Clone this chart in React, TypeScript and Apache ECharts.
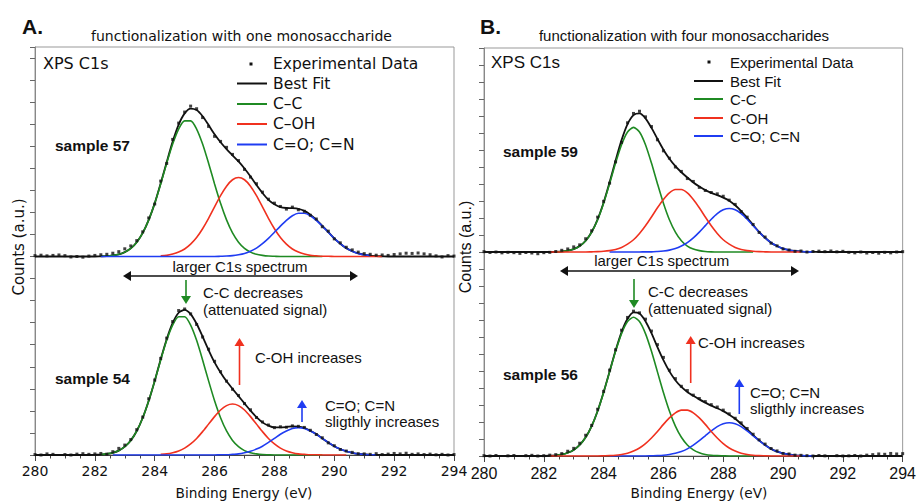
import React, { useEffect, useRef } from "react";
import * as echarts from "echarts";

const _ = null;

// Binding energy grids (eV)
const dataEnergy = [
  280.0, 280.2, 280.4, 280.6, 280.8, 281.0, 281.2, 281.4, 281.6, 281.8,
  282.0, 282.2, 282.4, 282.6, 282.8, 283.0, 283.2, 283.4, 283.6, 283.8,
  284.0, 284.2, 284.4, 284.6, 284.8, 285.0, 285.2, 285.4, 285.6, 285.8,
  286.0, 286.2, 286.4, 286.6, 286.8, 287.0, 287.2, 287.4, 287.6, 287.8,
  288.0, 288.2, 288.4, 288.6, 288.8, 289.0, 289.2, 289.4, 289.6, 289.8,
  290.0, 290.2, 290.4, 290.6, 290.8, 291.0, 291.2, 291.4, 291.6, 291.8,
  292.0, 292.2, 292.4, 292.6, 292.8, 293.0, 293.2, 293.4, 293.6, 293.8,
  294.0,
];
const fitEnergy = [
  282.0, 282.2, 282.4, 282.6, 282.8, 283.0, 283.2, 283.4, 283.6, 283.8,
  284.0, 284.2, 284.4, 284.6, 284.8, 285.0, 285.2, 285.4, 285.6, 285.8,
  286.0, 286.2, 286.4, 286.6, 286.8, 287.0, 287.2, 287.4, 287.6, 287.8,
  288.0, 288.2, 288.4, 288.6, 288.8, 289.0, 289.2, 289.4, 289.6, 289.8,
  290.0, 290.2, 290.4, 290.6, 290.8, 291.0, 291.2, 291.4, 291.6, 291.8,
  292.0,
];
const xTicks = [280, 282, 284, 286, 288, 290, 292, 294];

// ---------- Panel A, sample 57 (top) ----------
const s57Data = [
  0.04, 0.06, 0.03, 0.05, 0.07, 0.04, -0.02, 0.0, -0.03, 0.02,
  0.05, 0.08, 0.1, 0.15, 0.22, 0.35, 0.48, 0.72, 1.12, 1.75,
  2.38, 3.42, 4.22, 5.31, 6.05, 6.55, 6.82, 6.7, 6.3, 5.9,
  5.45, 5.22, 4.95, 4.63, 4.35, 3.95, 3.6, 3.3, 2.92, 2.6,
  2.42, 2.27, 2.15, 2.24, 2.12, 2.05, 1.87, 1.7, 1.35, 1.15,
  0.8, 0.62, 0.42, 0.3, 0.2, 0.13, 0.1, 0.06, 0.07, 0.05,
  0.09, 0.12, 0.15, 0.14, 0.16, 0.12, 0.08, 0.03, -0.02, 0.04,
  0.02,
];
const s57Fit = [
  0, 0, 0, 0, 0, 0, 0, 0, 0, 0,
  0, 0.01, 0.02, 0.05, 0.1, 0.2, 0.37, 0.65, 1.07, 1.66,
  2.41, 3.32, 4.28, 5.21, 5.98, 6.49, 6.71, 6.64, 6.36, 5.96,
  5.54, 5.18, 4.87, 4.59, 4.31, 3.99, 3.63, 3.24, 2.88, 2.57,
  2.37, 2.24, 2.2, 2.19, 2.16, 2.07, 1.9, 1.67, 1.39, 1.11,
  0.82, 0.58, 0.38, 0.24, 0.14, 0.08, 0.04, 0.02, 0.01, 0,
  0, 0, 0, 0, 0, 0, 0, 0, 0, 0,
  0,
];
const s57CC = [
  _, 0.01, 0.02, 0.05, 0.1, 0.2, 0.37, 0.65, 1.07, 1.66,
  2.41, 3.29, 4.23, 5.1, 5.78, 6.15, 6.15, 5.78, 5.1, 4.23,
  3.29, 2.41, 1.66, 1.07, 0.65, 0.37, 0.2, 0.1, 0.05, 0.02,
  0.01, 0, 0, 0, 0, 0, 0, 0, 0, _,
  _, _, _, _, _, _, _, _, _, _,
  _,
];
const s57COH = [
  _, _, _, _, _, _, _, _, _, _,
  _, 0.03, 0.05, 0.11, 0.2, 0.34, 0.56, 0.86, 1.26, 1.73,
  2.25, 2.76, 3.19, 3.48, 3.58, 3.48, 3.19, 2.76, 2.25, 1.73,
  1.26, 0.86, 0.56, 0.34, 0.2, 0.11, 0.05, 0.03, 0.01, 0.01,
  0, 0, 0, 0, 0, 0, 0, 0, 0, _,
  _,
];
const s57CO = [
  _, 0, 0, 0, 0, 0, 0, 0, 0, 0,
  0, 0, 0, 0, 0, 0, 0, 0, 0, 0,
  0, 0.01, 0.02, 0.04, 0.08, 0.14, 0.24, 0.38, 0.58, 0.82,
  1.1, 1.38, 1.64, 1.85, 1.96, 1.96, 1.85, 1.64, 1.38, 1.1,
  0.82, 0.58, 0.38, 0.24, 0.14, 0.08, 0.04, _, _, _,
  _,
];

// ---------- Panel A, sample 54 (bottom) ----------
const s54Data = [
  0.02, 0.0, 0.05, 0.03, -0.01, 0.02, 0.0, 0.04, 0.06, 0.03,
  0.05, 0.07, 0.04, 0.15, 0.3, 0.45, 0.7, 1.15, 1.72, 2.55,
  3.4, 4.38, 5.3, 6.05, 6.55, 6.62, 6.4, 5.92, 5.35, 4.8,
  4.25, 3.78, 3.35, 2.98, 2.7, 2.33, 2.05, 1.7, 1.5, 1.36,
  1.24, 1.28, 1.26, 1.32, 1.3, 1.25, 1.12, 0.93, 0.78, 0.55,
  0.42, 0.25, 0.18, 0.12, 0.06, 0.05, 0.03, 0.06, 0.02, 0.04,
  0.07, 0.05, 0.08, 0.03, 0.05, 0.02, 0.04, 0.01, 0.03, 0.0,
  0.02,
];
const s54Fit = [
  0, 0, 0, 0, 0, 0, 0, 0, 0, 0,
  0.01, 0.02, 0.05, 0.1, 0.2, 0.38, 0.66, 1.09, 1.69, 2.46,
  3.36, 4.34, 5.25, 5.99, 6.45, 6.58, 6.39, 5.95, 5.37, 4.76,
  4.2, 3.74, 3.34, 3.0, 2.67, 2.34, 2.01, 1.72, 1.48, 1.33,
  1.25, 1.25, 1.27, 1.3, 1.29, 1.23, 1.1, 0.95, 0.75, 0.57,
  0.4, 0.27, 0.17, 0.1, 0.05, 0.03, 0.01, 0.01, 0, 0,
  0, 0, 0, 0, 0, 0, 0, 0, 0, 0,
  0,
];
const s54CC = [
  _, 0.02, 0.05, 0.1, 0.2, 0.38, 0.66, 1.09, 1.69, 2.46,
  3.36, 4.31, 5.2, 5.89, 6.27, 6.27, 5.89, 5.2, 4.31, 3.36,
  2.46, 1.69, 1.09, 0.66, 0.38, 0.2, 0.1, 0.05, 0.02, 0.01,
  0, 0, 0, 0, 0, 0, 0, 0, 0, _,
  _, _, _, _, _, _, _, _, _, _,
  _,
];
const s54COH = [
  _, _, _, _, _, _, _, _, _, _,
  _, 0.03, 0.05, 0.1, 0.18, 0.31, 0.5, 0.75, 1.06, 1.4,
  1.74, 2.04, 2.24, 2.31, 2.24, 2.04, 1.74, 1.4, 1.06, 0.75,
  0.5, 0.31, 0.18, 0.1, 0.05, 0.03, 0.01, 0.01, 0, 0,
  0, 0, 0, _, _, _, _, _, _, _,
  _,
];
const s54CO = [
  _, _, _, 0, 0, 0, 0, 0, 0, 0,
  0, 0, 0, 0, 0, 0, 0, 0, 0, 0,
  0, 0.01, 0.01, 0.03, 0.05, 0.1, 0.17, 0.27, 0.4, 0.57,
  0.75, 0.94, 1.09, 1.2, 1.24, 1.2, 1.09, 0.94, 0.75, 0.57,
  0.4, 0.27, 0.17, 0.1, 0.05, 0.03, 0.01, 0.01, _, _,
  _,
];

// ---------- Panel B, sample 59 (top) ----------
const s59Data = [
  0.02, -0.03, 0.0, -0.05, -0.02, -0.04, -0.08, -0.03, -0.06, -0.1,
  -0.04, -0.02, 0.03, 0.1, 0.18, 0.3, 0.42, 0.78, 1.25, 2.05,
  2.98, 4.05, 5.3, 6.45, 7.6, 8.15, 8.28, 7.95, 7.38, 6.6,
  5.95, 5.52, 5.0, 4.74, 4.32, 4.15, 3.8, 3.62, 3.5, 3.42,
  3.28, 3.05, 2.8, 2.38, 2.05, 1.62, 1.15, 0.88, 0.52, 0.36,
  0.18, 0.12, 0.04, 0.06, 0.0, 0.03, 0.05, 0.02, 0.06, 0.01,
  0.04, -0.02, -0.05, 0.0, -0.06, -0.03, -0.07, -0.02, -0.05, 0.0,
  0.02,
];
const s59Fit = [
  0, 0, 0, 0, 0, 0, 0, 0, 0, 0,
  0, 0, 0.01, 0.03, 0.08, 0.17, 0.35, 0.66, 1.18, 1.92,
  2.91, 4.1, 5.38, 6.58, 7.52, 8.05, 8.15, 7.86, 7.3, 6.65,
  6.02, 5.49, 5.05, 4.69, 4.38, 4.09, 3.85, 3.64, 3.48, 3.35,
  3.2, 3.02, 2.75, 2.41, 2.01, 1.59, 1.19, 0.84, 0.55, 0.35,
  0.2, 0.11, 0.06, 0.03, 0.01, 0.01, 0, 0, 0, 0,
  0, 0, 0, 0, 0, 0, 0, 0, 0, 0,
  0,
];
const s59CC = [
  _, _, 0.01, 0.03, 0.08, 0.17, 0.35, 0.66, 1.17, 1.9,
  2.87, 4.02, 5.23, 6.31, 7.06, 7.33, 7.06, 6.31, 5.23, 4.02,
  2.87, 1.9, 1.17, 0.66, 0.35, 0.17, 0.08, 0.03, 0.01, 0,
  0, 0, 0, 0, 0, 0, _, _, _, _,
  _, _, _, _, _, _, _, _, _, _,
  _,
];
const s59COH = [
  _, 0, 0, 0, 0, 0, 0, 0, 0.01, 0.02,
  0.04, 0.08, 0.15, 0.27, 0.46, 0.72, 1.09, 1.54, 2.06, 2.6,
  3.09, 3.48, 3.68, 3.68, 3.48, 3.09, 2.6, 2.06, 1.54, 1.09,
  0.72, 0.46, 0.27, 0.15, 0.08, 0.04, 0.02, 0.01, 0, 0,
  0, 0, 0, 0, _, _, _, _, _, _,
  _,
];
const s59CO = [
  _, _, _, _, _, _, _, _, _, _,
  _, 0, 0, 0, 0, 0, 0, 0.01, 0.01, 0.03,
  0.06, 0.11, 0.2, 0.35, 0.55, 0.83, 1.17, 1.55, 1.93, 2.26,
  2.48, 2.56, 2.48, 2.26, 1.93, 1.55, 1.17, 0.83, 0.55, 0.35,
  0.2, 0.11, 0.06, 0.03, 0.01, 0.01, _, _, _, _,
  _,
];

// ---------- Panel B, sample 56 (bottom) ----------
const s56Data = [
  0.02, 0.0, 0.03, -0.02, 0.01, 0.03, -0.01, 0.02, 0.04, 0.0,
  0.02, 0.05, 0.08, 0.14, 0.28, 0.45, 0.75, 1.22, 1.8, 2.75,
  3.8, 5.05, 6.25, 7.4, 8.15, 8.52, 8.42, 8.05, 7.35, 6.55,
  5.8, 5.05, 4.55, 4.1, 3.85, 3.58, 3.38, 3.2, 3.02, 2.88,
  2.7, 2.48, 2.22, 1.95, 1.62, 1.28, 0.95, 0.7, 0.44, 0.3,
  0.15, 0.12, 0.05, 0.04, 0.02, 0.0, 0.03, 0.01, -0.01, 0.02,
  0.0, 0.01, 0.03, 0.0, 0.05, 0.08, 0.12, 0.1, 0.15, 0.12,
  0.14,
];
const s56Fit = [
  0, 0, 0, 0, 0, 0, 0, 0, 0, 0,
  0, 0.02, 0.04, 0.09, 0.19, 0.36, 0.65, 1.1, 1.76, 2.65,
  3.75, 4.97, 6.2, 7.29, 8.07, 8.45, 8.38, 7.93, 7.23, 6.41,
  5.64, 4.98, 4.46, 4.06, 3.77, 3.54, 3.33, 3.14, 2.96, 2.81,
  2.64, 2.43, 2.19, 1.89, 1.57, 1.23, 0.92, 0.65, 0.42, 0.26,
  0.16, 0.09, 0.04, 0.02, 0.01, 0, 0, 0, 0, 0,
  0, 0, 0, 0, 0, 0, 0, 0, 0, 0,
  0,
];
const s56CC = [
  _, _, 0.04, 0.09, 0.19, 0.36, 0.65, 1.1, 1.76, 2.65,
  3.74, 4.95, 6.16, 7.2, 7.91, 8.16, 7.91, 7.2, 6.16, 4.95,
  3.74, 2.65, 1.76, 1.1, 0.65, 0.36, 0.19, 0.09, 0.04, 0.02,
  0.01, 0, 0, 0, 0, 0, _, _, _, _,
  _, _, _, _, _, _, _, _, _, _,
  _,
];
const s56COH = [
  _, 0, 0, 0, 0, 0, 0, 0, 0, 0,
  0.01, 0.02, 0.04, 0.09, 0.16, 0.29, 0.47, 0.73, 1.06, 1.44,
  1.86, 2.24, 2.54, 2.7, 2.7, 2.54, 2.24, 1.86, 1.44, 1.06,
  0.73, 0.47, 0.29, 0.16, 0.09, 0.04, 0.02, 0.01, 0, 0,
  0, 0, 0, 0, _, _, _, _, _, _,
  _,
];
const s56CO = [
  _, _, _, _, _, _, _, _, _, _,
  _, 0, 0, 0, 0, 0, 0, 0, 0.01, 0.02,
  0.04, 0.09, 0.16, 0.26, 0.42, 0.64, 0.9, 1.19, 1.48, 1.73,
  1.9, 1.96, 1.9, 1.73, 1.48, 1.19, 0.9, 0.64, 0.42, 0.26,
  0.16, 0.09, 0.04, 0.02, 0.01, 0, _, _, _, _,
  _,
];

// vertical offsets of the upper spectrum in each panel (axis units)
const offsetA = 9;
const offsetB = 12;

const BLACK = "#111111";
const GREEN = "#1f8a23";
const RED = "#f0311f";
const BLUE = "#1f3cf2";

const fontA = '"DejaVu Sans", sans-serif';
const fontB = '"Liberation Sans", Arial, sans-serif';

function toPairs(xs: number[], ys: (number | null)[], off: number) {
  const out: number[][] = [];
  ys.forEach((v, i) => {
    if (v !== null && v !== undefined) out.push([xs[i], v + off]);
  });
  return out;
}

function lineS(g: number, xs: number[], ys: (number | null)[], off: number, color: string, width: number, z: number) {
  return {
    type: "line",
    xAxisIndex: g,
    yAxisIndex: g,
    data: toPairs(xs, ys, off),
    showSymbol: false,
    symbol: "none",
    smooth: 0.25,
    lineStyle: { color, width },
    z,
    silent: true,
  };
}
function dotS(g: number, ys: number[], off: number) {
  return {
    type: "scatter",
    xAxisIndex: g,
    yAxisIndex: g,
    data: toPairs(dataEnergy, ys, off),
    symbol: "rect",
    symbolSize: 3,
    itemStyle: { color: BLACK },
    z: 6,
    silent: true,
  };
}

function txt(text: string, x: number, y: number, font: string, align = "left", extra: any = {}) {
  return {
    type: "text",
    x,
    y,
    silent: true,
    ...extra,
    style: {
      text,
      font,
      fill: BLACK,
      align,
      verticalAlign: "middle",
      textAlign: align,
      textVerticalAlign: "middle",
    },
  };
}

function vArrow(x: number, tail: number, tip: number, color: string) {
  const dir = tip > tail ? 1 : -1;
  const hl = 8;
  const hw = 5;
  return [
    { type: "line", silent: true, shape: { x1: x, y1: tail, x2: x, y2: tip - dir * hl }, style: { stroke: color, lineWidth: 1.6 } },
    { type: "polygon", silent: true, shape: { points: [[x - hw, tip - dir * hl], [x + hw, tip - dir * hl], [x, tip]] }, style: { fill: color } },
  ];
}
function hDouble(x1: number, x2: number, y: number) {
  const hl = 8;
  const hw = 5;
  return [
    { type: "line", silent: true, shape: { x1: x1 + hl, y1: y, x2: x2 - hl, y2: y }, style: { stroke: BLACK, lineWidth: 1.6 } },
    { type: "polygon", silent: true, shape: { points: [[x1, y], [x1 + hl, y - hw], [x1 + hl, y + hw]] }, style: { fill: BLACK } },
    { type: "polygon", silent: true, shape: { points: [[x2, y], [x2 - hl, y - hw], [x2 - hl, y + hw]] }, style: { fill: BLACK } },
  ];
}
function legendLine(x1: number, x2: number, y: number, color: string) {
  return { type: "line", silent: true, shape: { x1, y1: y, x2, y2: y }, style: { stroke: color, lineWidth: 2 } };
}

function xAxisCfg(g: number, font: string, size: number) {
  return {
    type: "value",
    gridIndex: g,
    min: xTicks[0],
    max: xTicks[xTicks.length - 1],
    interval: xTicks[1] - xTicks[0],
    axisLine: { show: true, lineStyle: { color: "#444", width: 1 } },
    axisTick: { show: true, length: 6, lineStyle: { color: "#444" } },
    minorTick: { show: true, splitNumber: 4, length: 3.5, lineStyle: { color: "#444" } },
    axisLabel: { show: true, margin: 9, color: BLACK, fontFamily: font, fontSize: size },
    splitLine: { show: false },
  };
}
function yAxisCfg(g: number, max: number) {
  return {
    type: "value",
    gridIndex: g,
    min: 0,
    max,
    interval: 1,
    axisLine: { show: true, lineStyle: { color: "#888", width: 1 } },
    axisTick: { show: true, length: 5, lineStyle: { color: "#666" } },
    axisLabel: { show: false },
    splitLine: { show: false },
  };
}

export default function App() {
  const ref = useRef<HTMLDivElement>(null);
  useEffect(() => {
    if (!ref.current) return;
    const chart = echarts.init(ref.current, undefined, { renderer: "svg" });

    const graphics: any[] = [
      // Panel A
      txt("A.", 22, 26, `bold 21px ${fontB}`),
      txt("functionalization with one monosaccharide", 241.5, 36, `14px ${fontA}`, "center"),
      txt("XPS C1s", 43, 63, `16px ${fontA}`),
      { type: "rect", silent: true, shape: { x: 249.5, y: 62.5, width: 3, height: 3 }, style: { fill: BLACK } },
      legendLine(237, 267, 83.5, BLACK),
      legendLine(237, 267, 104, GREEN),
      legendLine(237, 267, 124, RED),
      legendLine(237, 267, 144.5, BLUE),
      txt("Experimental Data", 273, 63.5, `15.5px ${fontA}`),
      txt("Best Fit", 273, 83.5, `15.5px ${fontA}`),
      txt("C\u2013C", 273, 104, `15.5px ${fontA}`),
      txt("C\u2013OH", 273, 124, `15.5px ${fontA}`),
      txt("C=O; C=N", 273, 144.5, `15.5px ${fontA}`),
      txt("sample 57", 55, 145, `bold 15.5px ${fontB}`),
      txt("sample 54", 55, 378, `bold 15.5px ${fontB}`),
      txt("larger C1s spectrum", 240, 266.5, `15px ${fontB}`, "center"),
      ...hDouble(123, 358, 276),
      ...vArrow(186, 280, 304, GREEN),
      txt("C-C decreases", 203, 292.5, `15px ${fontB}`),
      txt("(attenuated signal)", 203, 309, `15px ${fontB}`),
      ...vArrow(239.5, 385, 338, RED),
      txt("C-OH increases", 255, 357, `15px ${fontB}`),
      ...vArrow(302, 422, 400, BLUE),
      txt("C=O; C=N", 325, 405, `15px ${fontB}`),
      txt("sligthly increases", 325, 421, `15px ${fontB}`),
      txt("Counts (a.u.)", 19, 247, `15px ${fontA}`, "center", { rotation: Math.PI / 2 }),
      txt("Binding Energy (eV)", 244, 493, `13.7px ${fontA}`, "center"),
      // Panel B
      txt("B.", 480, 26, `bold 21px ${fontB}`),
      txt("functionalization with four monosaccharides", 684, 35, `15px ${fontB}`, "center"),
      txt("XPS C1s", 491, 62, `17px ${fontB}`),
      { type: "rect", silent: true, shape: { x: 707.5, y: 60.5, width: 3, height: 3 }, style: { fill: BLACK } },
      legendLine(694, 723, 81, BLACK),
      legendLine(694, 723, 99, GREEN),
      legendLine(694, 723, 118, RED),
      legendLine(694, 723, 136, BLUE),
      txt("Experimental Data", 730, 62, `15px ${fontB}`),
      txt("Best Fit", 730, 81, `15px ${fontB}`),
      txt("C-C", 730, 99, `15px ${fontB}`),
      txt("C-OH", 730, 118, `15px ${fontB}`),
      txt("C=O; C=N", 730, 136, `15px ${fontB}`),
      txt("sample 59", 503, 151, `bold 15.5px ${fontB}`),
      txt("sample 56", 503, 374, `bold 15.5px ${fontB}`),
      txt("larger C1s spectrum", 661.7, 260.5, `15px ${fontB}`, "center"),
      ...hDouble(560, 799, 271),
      ...vArrow(634, 279, 308, GREEN),
      txt("C-C decreases", 648, 291, `15px ${fontB}`),
      txt("(attenuated signal)", 648, 308.5, `15px ${fontB}`),
      ...vArrow(690.7, 383, 336, RED),
      txt("C-OH increases", 698, 342.5, `15px ${fontB}`),
      ...vArrow(739.3, 414, 379, BLUE),
      txt("C=O; C=N", 750, 392, `15px ${fontB}`),
      txt("sligthly increases", 750, 408.5, `15px ${fontB}`),
      txt("Counts (a.u.)", 465, 247, `16px ${fontB}`, "center", { rotation: Math.PI / 2 }),
      txt("Binding Energy (eV)", 699, 493, `13.7px ${fontA}`, "center"),
    ];

    const option: any = {
      animation: false,
      backgroundColor: "#ffffff",
      grid: [
        { left: 35, right: 465, top: 47, bottom: 47, show: true, borderColor: "#999", borderWidth: 1, backgroundColor: "transparent" },
        { left: 484, right: 12, top: 48, bottom: 46, show: true, borderColor: "#999", borderWidth: 1, backgroundColor: "transparent" },
      ],
      xAxis: [xAxisCfg(0, fontA, 14), xAxisCfg(1, fontB, 16)],
      yAxis: [yAxisCfg(0, 18.5), yAxisCfg(1, 24)],
      series: [
        // Panel A top
        lineS(0, dataEnergy, s57Fit, offsetA, BLACK, 1.8, 3),
        lineS(0, fitEnergy, s57CC, offsetA, GREEN, 1.6, 4),
        lineS(0, fitEnergy, s57COH, offsetA, RED, 1.6, 4),
        lineS(0, fitEnergy, s57CO, offsetA, BLUE, 1.6, 4),
        dotS(0, s57Data, offsetA),
        // Panel A bottom
        lineS(0, dataEnergy, s54Fit, 0, BLACK, 1.8, 3),
        lineS(0, fitEnergy, s54CC, 0, GREEN, 1.6, 4),
        lineS(0, fitEnergy, s54COH, 0, RED, 1.6, 4),
        lineS(0, fitEnergy, s54CO, 0, BLUE, 1.6, 4),
        dotS(0, s54Data, 0),
        // Panel B top
        lineS(1, dataEnergy, s59Fit, offsetB, BLACK, 1.8, 3),
        lineS(1, fitEnergy, s59CC, offsetB, GREEN, 1.6, 4),
        lineS(1, fitEnergy, s59CO, offsetB, BLUE, 1.6, 4),
        lineS(1, fitEnergy, s59COH, offsetB, RED, 1.6, 4),
        dotS(1, s59Data, offsetB),
        // Panel B bottom
        lineS(1, dataEnergy, s56Fit, 0, BLACK, 1.8, 3),
        lineS(1, fitEnergy, s56CC, 0, GREEN, 1.6, 4),
        lineS(1, fitEnergy, s56CO, 0, BLUE, 1.6, 4),
        lineS(1, fitEnergy, s56COH, 0, RED, 1.6, 4),
        dotS(1, s56Data, 0),
      ],
      graphic: graphics,
    };
    chart.setOption(option);
    return () => chart.dispose();
  }, []);

  return (
    <div
      ref={ref}
      style={{ position: "fixed", left: 0, top: 0, width: 919, height: 502, background: "#fff" }}
    />
  );
}
